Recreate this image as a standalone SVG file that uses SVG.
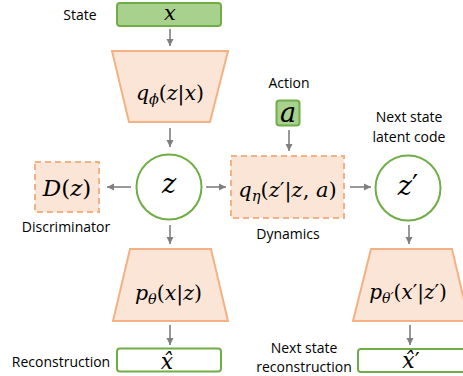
<svg xmlns="http://www.w3.org/2000/svg" width="463" height="376" viewBox="0 0 463 376">
  <style>
    .lbl { font-family: "Open Sans", "Liberation Sans", sans-serif; font-size: 14px; fill: #000; text-anchor: middle; }
    .math { font-family: "DejaVu Serif", serif; font-style: italic; fill: #000; text-anchor: middle; }
    .up { font-style: normal; }
    .sub { font-size: 70%; }
    .green { fill: #a9d18e; stroke: #70ad47; stroke-width: 2; }
    .outline { fill: #ffffff; stroke: #70ad47; stroke-width: 2; }
    .net { fill: #fbe5d6; stroke: #f4b183; stroke-width: 2; }
    .dash { fill: #fbe5d6; stroke: #f4b183; stroke-width: 2; stroke-dasharray: 6 4; }
    .node { fill: #ffffff; stroke: #70ad47; stroke-width: 2; }
    .arrow { stroke: #7f7f7f; stroke-width: 1.6; fill: none; marker-end: url(#head); }
  </style>
  <defs>
    <marker id="head" markerUnits="userSpaceOnUse" markerWidth="8" markerHeight="8" refX="7" refY="4" orient="auto">
      <path d="M0,0.5 L7,4 L0,7.5 Z" fill="#7f7f7f"/>
    </marker>
  </defs>

  <rect width="463" height="376" fill="#ffffff"/>

  <!-- connectors -->
  <g id="connectors">
    <line class="arrow" x1="170" y1="29" x2="170" y2="46"/>
    <line class="arrow" x1="170" y1="128" x2="170" y2="147"/>
    <line class="arrow" x1="131" y1="187" x2="107" y2="187"/>
    <line class="arrow" x1="206" y1="187" x2="226" y2="187"/>
    <line class="arrow" x1="289" y1="130" x2="289" y2="151"/>
    <line class="arrow" x1="350" y1="187" x2="371" y2="187"/>
    <line class="arrow" x1="170" y1="225" x2="170" y2="244"/>
    <line class="arrow" x1="409" y1="225" x2="409" y2="244"/>
    <line class="arrow" x1="170" y1="325" x2="170" y2="345"/>
    <line class="arrow" x1="410" y1="325" x2="410" y2="345"/>
  </g>

  <!-- state input -->
  <g id="state">
    <text class="lbl" x="80" y="20">State</text>
    <rect class="green" x="117" y="3" width="104" height="23" rx="3"/>
    <text class="math" x="170" y="20" font-size="21">x</text>
  </g>

  <!-- encoder -->
  <g id="encoder">
    <polygon class="net" points="112,51 228,51 210,122 129,122"/>
    <text class="math" x="170" y="100" font-size="20.5">q<tspan class="sub" dy="4">ϕ</tspan><tspan class="up" dy="-4">(</tspan>z<tspan class="up">|</tspan>x<tspan class="up">)</tspan></text>
  </g>

  <!-- latent code -->
  <g id="latent">
    <circle class="node" cx="169" cy="187" r="32.5"/>
    <text class="math" x="169" y="193" font-size="27">z</text>
  </g>

  <!-- discriminator -->
  <g id="discriminator">
    <rect class="dash" x="35" y="162" width="64" height="50"/>
    <text class="math" x="67" y="195.5" font-size="23">D<tspan class="up">(</tspan>z<tspan class="up">)</tspan></text>
    <text class="lbl" x="66" y="231.5">Discriminator</text>
  </g>

  <!-- action input -->
  <g id="action">
    <text class="lbl" x="289" y="88">Action</text>
    <rect class="green" x="276.5" y="100.5" width="23" height="25" rx="3"/>
    <text class="math" x="288" y="121.5" font-size="27">a</text>
  </g>

  <!-- dynamics -->
  <g id="dynamics">
    <rect class="dash" x="231" y="156" width="113" height="62"/>
    <text class="math" x="287.5" y="196.5" font-size="21">q<tspan class="sub" dy="4">η</tspan><tspan class="up" dy="-4">(</tspan>z<tspan class="up">′|</tspan>z<tspan class="up">, </tspan>a<tspan class="up">)</tspan></text>
    <text class="lbl" x="288" y="239">Dynamics</text>
  </g>

  <!-- next latent code -->
  <g id="next-latent">
    <text class="lbl" x="409" y="121.5">Next state</text>
    <text class="lbl" x="409" y="141.5">latent code</text>
    <circle class="node" cx="408" cy="188" r="32.5"/>
    <text class="math" x="408" y="195" font-size="27">z<tspan class="up">′</tspan></text>
  </g>

  <!-- decoder -->
  <g id="decoder">
    <polygon class="net" points="130,249 211,249 228,321 113,321"/>
    <text class="math" x="168.5" y="300" font-size="20.5">p<tspan class="sub" dy="4">θ</tspan><tspan class="up" dy="-4">(</tspan>x<tspan class="up">|</tspan>z<tspan class="up">)</tspan></text>
  </g>

  <!-- next-state decoder -->
  <g id="next-decoder">
    <polygon class="net" points="371,249 452,249 469,321 353,321"/>
    <text class="math" x="408" y="299" font-size="20">p<tspan class="sub" dy="4">θ′</tspan><tspan class="up" dy="-4">(</tspan>x<tspan class="up">′|</tspan>z<tspan class="up">′)</tspan></text>
  </g>

  <!-- reconstruction -->
  <g id="reconstruction">
    <text class="lbl" x="61" y="366.5">Reconstruction</text>
    <rect class="outline" x="117" y="348.5" width="104" height="23" rx="3"/>
    <text class="math" x="167" y="369" font-size="22">x̂</text>
  </g>

  <!-- next-state reconstruction -->
  <g id="next-reconstruction">
    <text class="lbl" x="304" y="353">Next state</text>
    <text class="lbl" x="304" y="371.5">reconstruction</text>
    <rect class="outline" x="358" y="349" width="108" height="23" rx="3"/>
    <text class="math" x="411" y="368" font-size="22">x̂<tspan class="up">′</tspan></text>
  </g>
</svg>
